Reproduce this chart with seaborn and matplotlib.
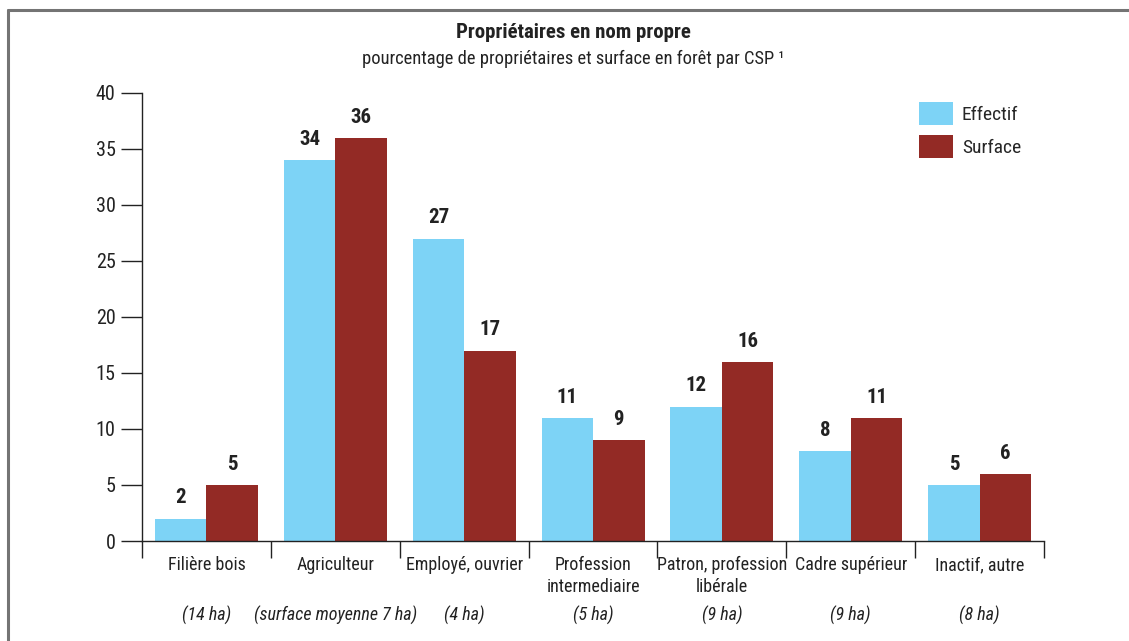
import pandas as pd
import seaborn as sns
import matplotlib.pyplot as plt
from matplotlib.lines import Line2D
from matplotlib.transforms import blended_transform_factory

# Données
categories = ["Filière bois", "Agriculteur", "Employé, ouvrier", "Profession\nintermediaire",
              "Patron, profession\nlibérale", "Cadre supérieur", "Inactif, autre"]
surfaces_moy = ["(14 ha)", "(surface moyenne 7 ha)", "(4 ha)", "(5 ha)", "(9 ha)", "(9 ha)", "(8 ha)"]
effectif = [2, 34, 27, 11, 12, 8, 5]
surface = [5, 36, 17, 9, 16, 11, 6]
series = ["Effectif", "Surface"]
couleurs = ["#7dd3f6", "#932a25"]

df = pd.DataFrame({
    "CSP": categories * 2,
    "Série": [series[0]] * len(categories) + [series[1]] * len(categories),
    "Valeur": effectif + surface,
})

sns.set_style("white")
plt.rcParams["font.family"] = ["Roboto Condensed", "DejaVu Sans"]

fig = plt.figure(figsize=(11.29, 6.41), dpi=100)
ax = fig.add_axes([0.1258, 0.156, 0.799, 0.699])

sns.barplot(data=df, x="CSP", y="Valeur", hue="Série", palette=couleurs,
            width=0.8, saturation=1, linewidth=0, ax=ax, legend=True)

for cont in ax.containers:
    ax.bar_label(cont, padding=8, fontsize=15, fontweight="bold", color="#222222")

ax.set_xlim(-0.5, len(categories) - 0.5)
ax.set_ylim(0, 40)
ax.set_yticks(range(0, 41, 5))
ax.set_xlabel("")
ax.set_ylabel("")

# axes
sns.despine(ax=ax)
for s in ["left", "bottom"]:
    ax.spines[s].set_color("#222222")
    ax.spines[s].set_linewidth(1)
ax.tick_params(axis="y", length=15, width=1, color="#222222", labelsize=14.5, pad=4,
               labelcolor="#222222", left=True)
ax.tick_params(axis="x", which="major", length=0, labelsize=13, pad=11, labelcolor="#222222")
ax.set_xticks([i + 0.5 for i in range(-1, len(categories))], minor=True)
ax.tick_params(axis="x", which="minor", length=12, width=1, color="#222222", bottom=True)
for lab in ax.get_xticklabels():
    lab.set_verticalalignment("top")
    lab.set_linespacing(1.25)

trans = blended_transform_factory(ax.transData, ax.transAxes)
for i, txt in enumerate(surfaces_moy):
    ax.text(i, -0.165, txt, transform=trans, ha="center", va="center",
            fontsize=13, style="italic", color="#222222")

# légende
ax.legend(title=None, frameon=False, loc="upper left", bbox_to_anchor=(919 / 1129, 1 - 102 / 641),
          bbox_transform=fig.transFigure, fontsize=14, handlelength=1.75, handleheight=1.45,
          handletextpad=0.45, labelspacing=0.5, borderpad=0, borderaxespad=0)

# titres
fig.text(0.508, 1 - 33 / 641, "Propriétaires en nom propre", ha="center", va="center",
         fontsize=15, fontweight="bold", color="#222222")
fig.text(0.508, 1 - 59 / 641, "pourcentage de propriétaires et surface en forêt par CSP ¹",
         ha="center", va="center", fontsize=13.3, color="#222222")

# cadre
fig.add_artist(Line2D([8 / 1129, 8 / 1129], [0, 1 - 9.5 / 641], transform=fig.transFigure,
                      color="#747474", lw=2.2))
fig.add_artist(Line2D([8 / 1129, 1], [1 - 9.5 / 641, 1 - 9.5 / 641], transform=fig.transFigure,
                      color="#747474", lw=2.2))

fig.savefig("out.png", dpi=100)
